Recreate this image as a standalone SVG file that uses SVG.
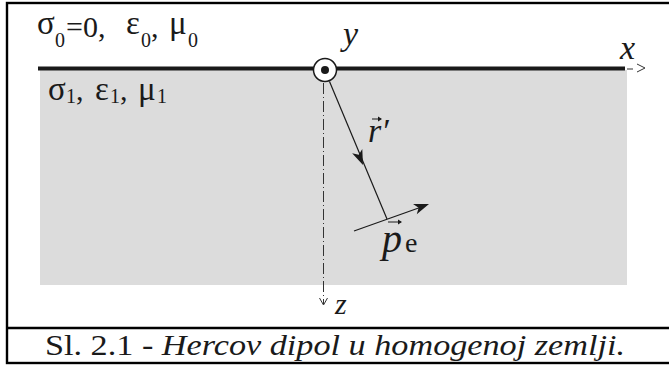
<svg xmlns="http://www.w3.org/2000/svg" width="669" height="368" viewBox="0 0 669 368">
<style>
.t{font-family:"Liberation Serif","Times New Roman",serif;fill:#1a1a1a}
.i{font-style:italic}
.g{font-size:33px}
.s{font-size:20px}
.frame{fill:none;stroke:#000;stroke-width:2.4}
.thin{fill:none;stroke:#1a1a1a;stroke-width:1.2}
</style>
<defs>
<path id="ah" d="M0,0 L-15,-5.5 L-11,0 L-15,5.5 Z" fill="#1a1a1a"/>
</defs>
<rect width="669" height="368" fill="#fff"/>
<g id="frame">
<rect class="frame" x="7" y="3" width="668" height="360"/>
<line class="frame" x1="7" y1="328" x2="675" y2="328"/>
</g>
<g id="ground">
<rect x="40" y="70" width="587" height="215" fill="#dcdcdc"/>
<line x1="38" y1="68.5" x2="625" y2="68.5" stroke="#1a1a1a" stroke-width="4"/>
</g>
<g id="labels-media">
<text class="t" font-size="30"><tspan class="g" x="37" y="34">σ</tspan><tspan class="s" x="55" y="47">0</tspan><tspan x="66" y="37">=0,</tspan><tspan class="g" x="126" y="34">ε</tspan><tspan class="s" x="141" y="47">0</tspan><tspan x="151" y="37">,</tspan><tspan class="g" x="169" y="34">μ</tspan><tspan class="s" x="188" y="47">0</tspan></text>
<text class="t" font-size="30"><tspan class="g" x="48" y="100">σ</tspan><tspan class="s" x="66" y="103">1</tspan><tspan x="76" y="100">,</tspan><tspan class="g" x="95" y="100">ε</tspan><tspan class="s" x="110" y="103">1</tspan><tspan x="120" y="100">,</tspan><tspan class="g" x="138" y="100">μ</tspan><tspan class="s" x="157" y="103">1</tspan></text>
</g>
<g id="connectors">
<line x1="323.5" y1="83" x2="323.5" y2="304" stroke="#333" stroke-width="1" stroke-dasharray="11,3,1,3"/>
<polyline points="319.5,298 323.5,305 327.5,298" fill="none" stroke="#333" stroke-width="1"/>
<line x1="627" y1="69" x2="633" y2="69" stroke="#333" stroke-width="1"/>
<polyline points="637,64 645,68 637,72" fill="none" stroke="#333" stroke-width="1"/>
<line class="thin" x1="329.5" y1="81.5" x2="387" y2="219"/>
<use href="#ah" transform="translate(363,165) rotate(67.3)"/>
<line class="thin" x1="354" y1="231" x2="420" y2="207.5"/>
<use href="#ah" transform="translate(429,204) rotate(-19.8)"/>
</g>
<g id="dipole-origin">
<circle cx="325" cy="70" r="11.5" fill="#fff" stroke="#1a1a1a" stroke-width="1.5"/>
<circle cx="325" cy="70" r="4" fill="#1a1a1a"/>
</g>
<g id="axis-labels">
<text class="t i" font-size="34" x="343" y="45">y</text>
<text class="t i" font-size="34" x="620" y="59">x</text>
<text class="t i" font-size="30" x="335" y="314">z</text>
</g>
<g id="vector-labels">
<text class="t i" font-size="34" x="368" y="142">r′</text>
<line x1="372" y1="119" x2="381" y2="119" stroke="#1a1a1a" stroke-width="1"/>
<polyline points="378,116.5 382,119 378,121.5" fill="#1a1a1a" stroke="none"/>
<text class="t i" font-size="40" x="382" y="252">p</text>
<text class="t" font-size="28" x="405" y="252">e</text>
<line x1="388" y1="222" x2="401" y2="222" stroke="#1a1a1a" stroke-width="1"/>
<polyline points="398,219.5 402,222 398,224.5" fill="#1a1a1a" stroke="none"/>
</g>
<g id="caption">
<text class="t" font-size="30" x="45" y="355" textLength="580" lengthAdjust="spacingAndGlyphs">Sl. 2.1 - <tspan class="i">Hercov dipol u homogenoj zemlji.</tspan></text>
</g>
</svg>
